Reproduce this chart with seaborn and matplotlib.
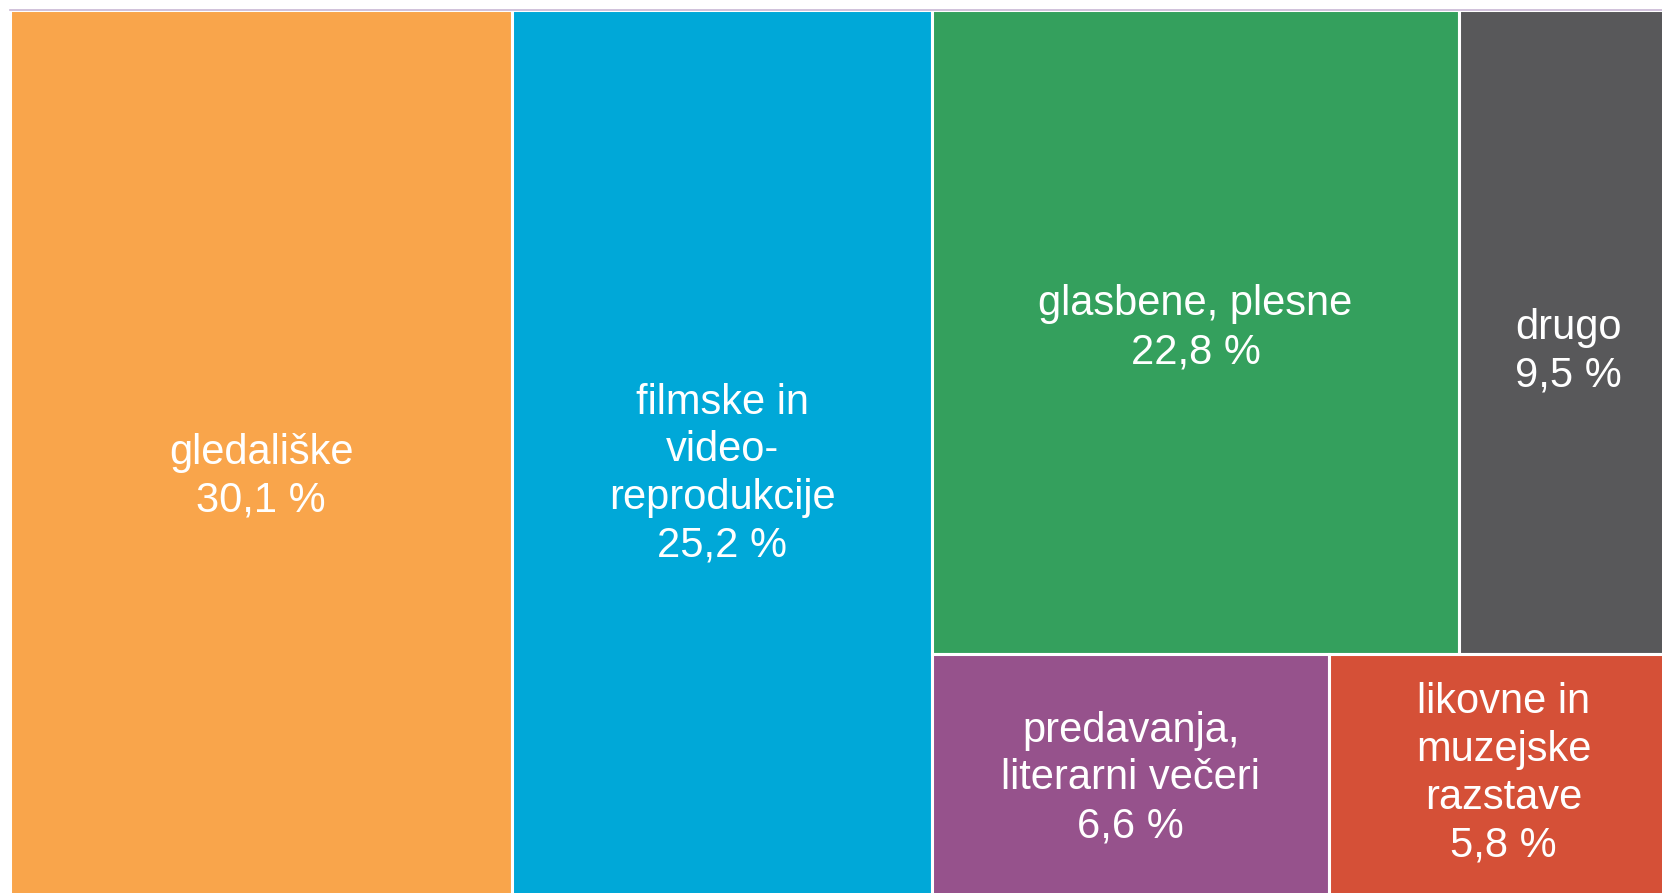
import matplotlib
matplotlib.use("Agg")
import matplotlib.pyplot as plt
import seaborn as sns

# Share of events by type (%)
categories = ["gledališke", "filmske in\nvideo-\nreprodukcije", "glasbene, plesne",
              "drugo", "predavanja,\nliterarni večeri", "likovne in\nmuzejske\nrazstave"]
values = [30.1, 25.2, 22.8, 9.5, 6.6, 5.8]
value_labels = ["30,1 %", "25,2 %", "22,8 %", "9,5 %", "6,6 %", "5,8 %"]
colors = ["#F9A54B", "#00A8D8", "#34A05D", "#58585A", "#96528C", "#D55037"]

sns.set_theme(style="white")
plt.rcParams['font.family'] = ['Liberation Sans', 'DejaVu Sans']

total = sum(values)
frac = [v / total for v in values]

# treemap layout: two full-height columns, then a 2x2 block for the rest
rest_w = 1 - frac[0] - frac[1]
top_sum = values[2] + values[3]
bot_sum = values[4] + values[5]
top_h = top_sum / (top_sum + bot_sum)
x0 = frac[0] + frac[1]
rects = [
    (0, 0, frac[0], 1),
    (frac[0], 0, frac[1], 1),
    (x0, 1 - top_h, rest_w * values[2] / top_sum, top_h),
    (x0 + rest_w * values[2] / top_sum, 1 - top_h, rest_w * values[3] / top_sum, top_h),
    (x0, 0, rest_w * values[4] / bot_sum, 1 - top_h),
    (x0 + rest_w * values[4] / bot_sum, 0, rest_w * values[5] / bot_sum, 1 - top_h),
]

fig = plt.figure(figsize=(16.62, 8.93), dpi=100)
# the chart is cropped on the right and bottom edge
ax = fig.add_axes([10 / 1662, -8 / 893, 1668 / 1662, 891 / 893])

for (x, y, w, h), c in zip(rects, colors):
    ax.bar(x, h, width=w, bottom=y, align="edge", color=c, edgecolor="white", linewidth=2.2)

y_shift = [-0.024, -0.021, 0.004, -0.022, -0.001, 0.004]
for (x, y, w, h), cat, lab, dy in zip(rects, categories, value_labels, y_shift):
    ax.text(x + w / 2, y + h / 2 + dy, cat + "\n" + lab, ha="center", va="center",
            color="white", fontsize=30, linespacing=1.25)

ax.set_xlim(0, 1)
ax.set_ylim(0, 1)
ax.set_xticks([])
ax.set_yticks([])
for s in ["left", "right", "bottom"]:
    ax.spines[s].set_visible(False)
ax.spines["top"].set_color("#C8B6D4")
ax.spines["top"].set_linewidth(1.2)

fig.savefig("out.png", dpi=100)
